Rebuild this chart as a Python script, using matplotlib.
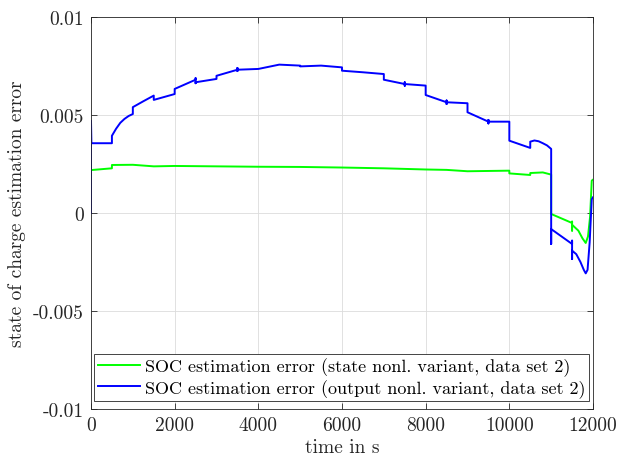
import matplotlib
matplotlib.use("Agg")
import matplotlib.pyplot as plt

plt.rcParams['font.family'] = ['cmr10', 'DejaVu Serif']
plt.rcParams['axes.unicode_minus'] = False
plt.rcParams['mathtext.fontset'] = 'cm'

# blue: output nonl. variant
t_blue = [0, 0, 10, 500, 500, 600, 700, 800, 900, 1000, 1000, 1250, 1500, 1500, 2000, 2000,
          2500, 2500, 2500, 2500, 3000, 3000, 3500, 3500, 3500, 3500, 4000, 4500, 5000, 5000,
          5500, 6000, 6000, 6500, 7000, 7000, 7500, 7500, 7500, 7500, 8000, 8000, 8500, 8500,
          8500, 8500, 9000, 9000, 9500, 9500, 9500, 9500, 10000, 10000, 10500, 10500, 10600,
          10700, 10800, 10900, 11000, 11000, 11000, 11500, 11500, 11500, 11500, 11600, 11700,
          11780, 11826, 11870, 11920, 11970, 12000]
v_blue = [0.0, 0.0047, 0.00356, 0.00356, 0.00394, 0.0043, 0.0046, 0.0048, 0.00495, 0.00505,
          0.0054, 0.0057, 0.00599, 0.00577, 0.00607, 0.00633, 0.0068, 0.00688, 0.00662,
          0.00667, 0.00684, 0.0070, 0.00731, 0.0074, 0.00724, 0.00731, 0.00735, 0.00757,
          0.00752, 0.00748, 0.00752, 0.00743, 0.00726, 0.00718, 0.00709, 0.0068, 0.00658,
          0.00667, 0.00649, 0.00658, 0.0065, 0.00602, 0.00565, 0.00574, 0.00556, 0.00565,
          0.0056, 0.00514, 0.00466, 0.00475, 0.00457, 0.00466, 0.00466, 0.00369, 0.00332,
          0.00364, 0.0037, 0.00366, 0.00356, 0.00345, 0.00327, -0.00158, -0.00082, -0.00158,
          -0.00141, -0.00235, -0.00192, -0.0021, -0.0025, -0.0029, -0.00308, -0.0029,
          -0.0015, 0.0007, 0.0008]

# green: state nonl. variant
t_green = [0, 500, 500, 1000, 1500, 2000, 3000, 4000, 5000, 6000, 7000, 8000, 8500, 9000,
           10000, 10000, 10500, 10500, 10800, 11000, 11000, 11500, 11500, 11500, 11500,
           11650, 11750, 11826, 11880, 11930, 11970, 12000]
v_green = [0.00219, 0.00228, 0.00245, 0.00246, 0.00238, 0.0024, 0.00238, 0.00236, 0.00235,
           0.00232, 0.00228, 0.00222, 0.0022, 0.00213, 0.00216, 0.00202, 0.00194, 0.00204,
           0.00207, 0.00196, -0.00005, -0.00051, -0.00044, -0.0009, -0.0006, -0.0009,
           -0.0013, -0.00153, -0.0012, -0.0002, 0.00165, 0.0017]

xticks = [0, 2000, 4000, 6000, 8000, 10000, 12000]
xticklabels = ['0', '2000', '4000', '6000', '8000', '10000', '12000']
yticks = [-0.01, -0.005, 0, 0.005, 0.01]
yticklabels = ['-0.01', '-0.005', '0', '0.005', '0.01']

fig = plt.figure(figsize=(6.21, 4.64), dpi=100)
ax = fig.add_axes([91/621, 1-410/464, 502/621, 392/464])

ax.plot(t_green, v_green, color='#00ff00', lw=1.4,
        label='SOC estimation error (state nonl. variant, data set 2)')
ax.plot(t_blue, v_blue, color='#0000ff', lw=1.4,
        label='SOC estimation error (output nonl. variant, data set 2)')

ax.set_xlim(0, 12000)
ax.set_ylim(-0.01, 0.01)
ax.set_xticks(xticks)
ax.set_xticklabels(xticklabels)
ax.set_yticks(yticks)
ax.set_yticklabels(yticklabels)
ax.tick_params(direction='in', top=True, right=True, labelsize=14, length=4,
               color='#262626', labelcolor='#262626', width=0.6, pad=5)
ax.grid(True, color='#dcdcdc', lw=0.6)
for s in ax.spines.values():
    s.set_color('#262626')
    s.set_linewidth(0.6)

ax.set_xlabel('time in s', fontsize=14, color='#262626', labelpad=3)
ax.set_ylabel('state of charge estimation error', fontsize=14, color='#262626', labelpad=5)

leg = ax.legend(loc='lower left', bbox_to_anchor=(0.006, 0.02), fontsize=13,
                frameon=True, fancybox=False, edgecolor='#262626', framealpha=1,
                handlelength=2.35, handletextpad=0.25, borderpad=0.2, labelspacing=0.15,
                borderaxespad=0)
leg.get_frame().set_linewidth(0.6)

fig.savefig('out.png', dpi=100)
